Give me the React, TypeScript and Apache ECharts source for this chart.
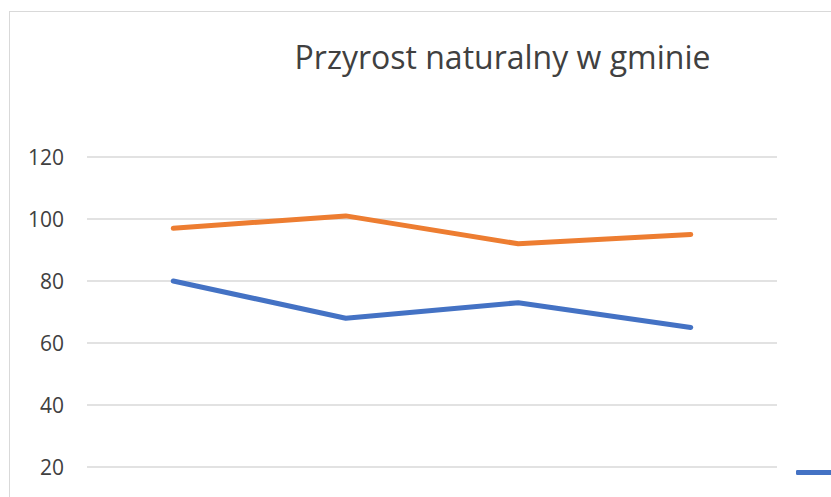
import React, { useEffect, useRef } from "react";
import * as echarts from "echarts";

const categories = ["2016", "2017", "2018", "2019"];
const seriesNames = ["Zgony", "Urodzenia"];
const blueValues = [80, 68, 73, 65];
const orangeValues = [97, 101, 92, 95];
const titleText = "Przyrost naturalny w gminie";

export default function App() {
  const ref = useRef<HTMLDivElement>(null);
  useEffect(() => {
    if (!ref.current) return;
    const chart = echarts.init(ref.current, undefined, { renderer: "svg" });
    const font = "'Open Sans', sans-serif";
    chart.setOption({
      animation: false,
      backgroundColor: "#ffffff",
      title: {
        text: titleText,
        left: "center",
        top: 23,
        textStyle: { fontFamily: font, fontSize: 32, fontWeight: "normal", color: "#404040" },
      },
      legend: {
        orient: "vertical",
        left: 781,
        top: 445,
        itemWidth: 36,
        itemHeight: 5,
        icon: "roundRect",
        textStyle: { fontFamily: font, fontSize: 21, color: "#404040", lineHeight: 20 },
        data: seriesNames,
      },
      grid: { left: 77, right: 218, top: 145, bottom: 103, containLabel: false },
      xAxis: {
        type: "category",
        data: categories,
        boundaryGap: true,
        axisLine: { lineStyle: { color: "#d9d9d9", width: 1.5 } },
        axisTick: { show: false },
        axisLabel: { show: false, fontFamily: font, fontSize: 21, color: "#404040" },
      },
      yAxis: {
        type: "value",
        min: 0,
        max: 120,
        interval: 20,
        axisLine: { show: false },
        axisTick: { show: false },
        axisLabel: { fontFamily: font, fontSize: 21, color: "#404040", margin: 23, showMinLabel: false },
        splitLine: { lineStyle: { color: "#d9d9d9", width: 1.5 } },
      },
      series: [
        {
          name: seriesNames[0],
          type: "line",
          data: blueValues,
          showSymbol: false,
          symbol: "none",
          itemStyle: { color: "#4472C4" },
          lineStyle: { color: "#4472C4", width: 5, cap: "round", join: "round" },
        },
        {
          name: seriesNames[1],
          type: "line",
          data: orangeValues,
          showSymbol: false,
          symbol: "none",
          itemStyle: { color: "#ED7D31" },
          lineStyle: { color: "#ED7D31", width: 5, cap: "round", join: "round" },
        },
      ],
    });
    return () => chart.dispose();
  }, []);
  return (
    <div style={{ position: "absolute", left: 0, top: 0, width: 831, height: 497, overflow: "hidden", background: "#fff" }}>
      <div
        style={{
          position: "absolute",
          left: 9,
          top: 11,
          width: 985,
          height: 620,
          border: "1.5px solid #d9d9d9",
          boxSizing: "content-box",
        }}
      >
        <div ref={ref} style={{ width: 985, height: 620 }} />
      </div>
    </div>
  );
}
